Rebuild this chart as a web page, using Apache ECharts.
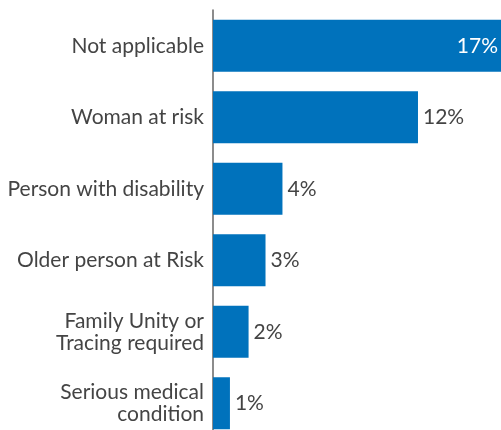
<!DOCTYPE html>
<html><head><meta charset="utf-8">
<script src="https://cdn.jsdelivr.net/npm/echarts@6/dist/echarts.min.js"></script>
<style>html,body{margin:0;padding:0;background:#fff;overflow:hidden}#c{width:501px;height:440px}</style>
</head><body><div id="c"></div>
<script>
const categories = ["Not applicable", "Woman at risk", "Person with disability", "Older person at Risk", "Family Unity or\nTracing required", "Serious medical\ncondition"];
const values = [17, 12.1, 4.1, 3.1, 2.1, 1.0];
const valueLabels = ["17%", "12%", "4%", "3%", "2%", "1%"];

const chart = echarts.init(document.getElementById('c'), null, {renderer: 'canvas'});
const data = values.map((v, i) => {
  const d = {value: v};
  if (i === 0) d.label = {position: 'insideRight', color: '#ffffff', distance: 3};
  return d;
});
chart.setOption({
  animation: false,
  grid: {left: 213, width: 288, top: 10, height: 429, containLabel: false},
  xAxis: {type: 'value', min: 0, max: 17, show: false},
  yAxis: {
    type: 'category', data: categories, inverse: true,
    axisLine: {show: true, lineStyle: {color: '#666666', width: 1.5}},
    axisTick: {show: false},
    axisLabel: {fontFamily: 'Lato', fontSize: 21, color: '#444444', margin: 9, lineHeight: 22, align: 'right'}
  },
  series: [{
    type: 'bar', data: data, barCategoryGap: '27%',
    itemStyle: {color: '#0072BC'},
    label: {show: true, position: 'right', distance: 5, fontFamily: 'Lato', fontSize: 21, color: '#444444',
      formatter: p => valueLabels[p.dataIndex]}
  }]
});
</script></body></html>
